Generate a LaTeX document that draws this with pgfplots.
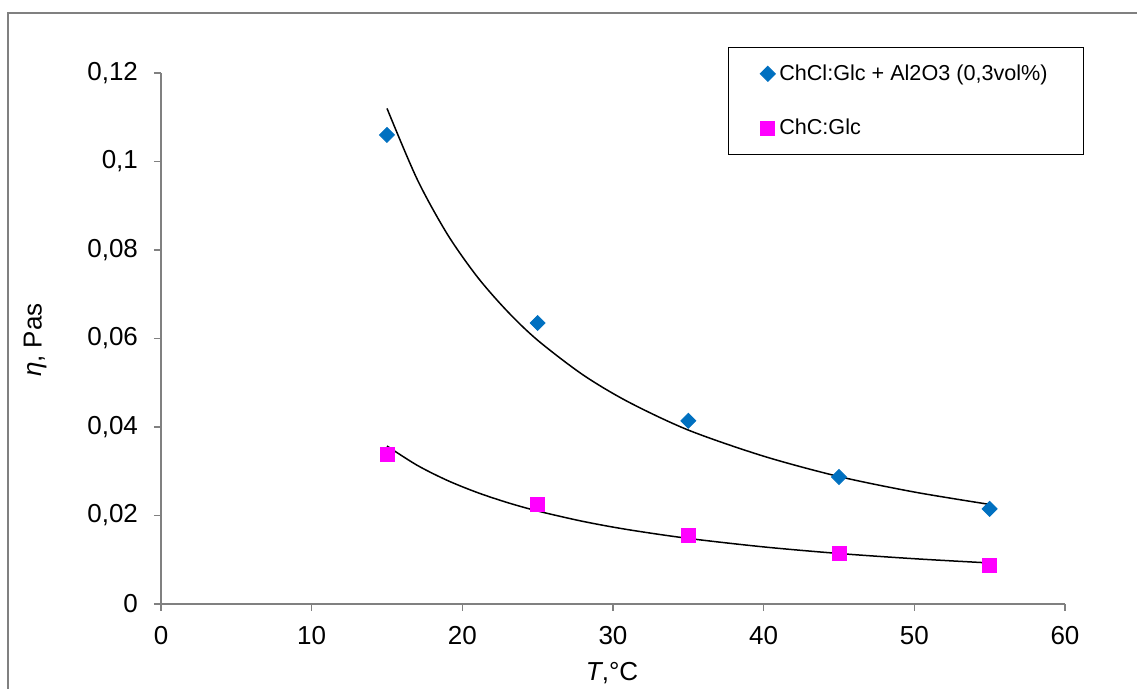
\documentclass[border=0pt]{standalone}
\usepackage{pgfplots}
\pgfplotsset{compat=1.18}
\usepackage{fontspec}
\setmainfont{Liberation Sans}
\definecolor{ptblue}{RGB}{0,112,192}
\definecolor{ptpink}{RGB}{255,0,255}
\definecolor{framegray}{RGB}{128,128,128}
\begin{document}
\begin{tikzpicture}
\useasboundingbox (-80.5pt,-42.5pt) rectangle (488pt,302pt);
\draw[framegray, line width=0.6pt] (-76.5pt,-60pt) -- (-76.5pt,295.5pt) -- (520pt,295.5pt);
\begin{axis}[
  at={(0pt,0pt)}, anchor=origin,
  scale only axis, width=452pt, height=265.5pt,
  xmin=0, xmax=60, ymin=0, ymax=0.12,
  xtick={0,10,...,60},
  ytick={0,0.02,0.04,0.06,0.08,0.1,0.12},
  scaled y ticks=false,
  axis x line*=bottom, axis y line*=left,
  axis line style={framegray, line width=0.6pt},
  tick style={framegray, line width=0.6pt},
  tick align=outside, major tick length=3.5pt,
  /pgf/number format/.cd, use comma, 1000 sep={}, fixed, precision=2, assume math mode=true,
  /pgfplots/.cd,
  tick label style={font=\fontsize{13}{15}\selectfont},
  yticklabel style={xshift=-4.5pt},
  xticklabel style={yshift=-4pt},
  xlabel={\textit{T},°C},
  ylabel={\textit{η}, Pas},
  label style={font=\fontsize{13}{15}\selectfont},
  xlabel style={at={(axis description cs:0.499,-0.13)}, anchor=center},
  ylabel style={at={(axis description cs:-0.139,0.497)}, anchor=center},
  legend style={at={(rel axis cs:0.627,1.049)}, anchor=north west,
    draw=black, line width=0.5pt, font=\fontsize{10.8}{12}\selectfont,
    inner xsep=16pt, inner ysep=6.5pt, row sep=14pt,
    cells={anchor=west}},
  legend cell align=left,
  legend image code/.code={\draw[#1, only marks] plot coordinates {(0pt,0pt)};},
]
\addplot[only marks, mark=square*, mark size=2.65pt, mark options={rotate=45, fill=ptblue, draw=ptblue}]
  coordinates {(15,0.106) (25,0.0635) (35,0.0414) (45,0.0287) (55,0.0215)};
\addlegendentry{ChCl:Glc + Al2O3 (0,3vol\%)}
\addplot[only marks, mark=square*, mark size=3.5pt, mark options={fill=ptpink, draw=ptpink}]
  coordinates {(15,0.0339) (25,0.0226) (35,0.0156) (45,0.0115) (55,0.0088)};
\addlegendentry{ChC:Glc}
\addplot[black, line width=0.75pt, smooth, no marks, forget plot]
  coordinates {(15,0.1120) (17,0.0960) (19,0.0836) (21,0.0739) (23,0.0661) (25,0.0596) (28,0.0518) (31,0.0457) (35,0.0393) (40,0.0334) (45,0.0288) (50,0.0253) (55,0.0225)};
\addplot[black, line width=0.75pt, smooth, no marks, forget plot]
  coordinates {(15,0.0357) (17,0.03135) (19,0.02793) (21,0.02518) (23,0.02291) (25,0.02101) (28,0.01867) (31,0.01680) (35,0.01482) (40,0.01290) (45,0.01141) (50,0.01023) (55,0.00927)};
\end{axis}
\end{tikzpicture}
\end{document}
